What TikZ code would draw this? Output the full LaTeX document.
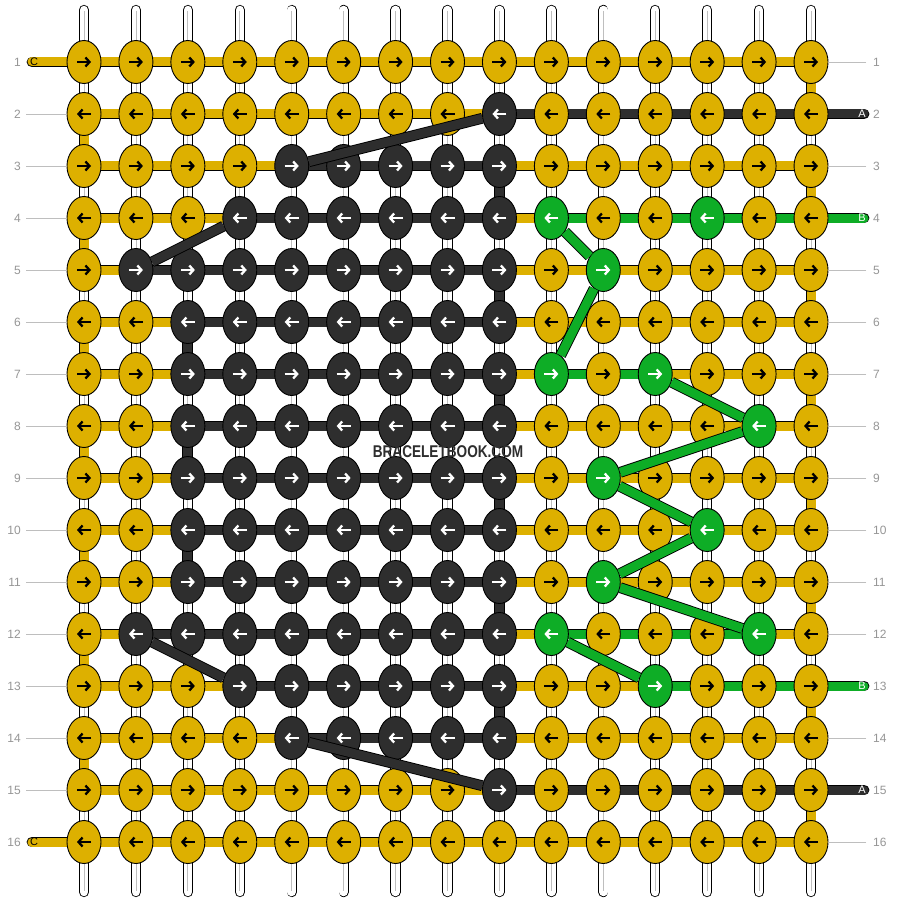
\documentclass[tikz,border=0pt]{standalone}
\usepackage{fontspec}
\setmainfont{Liberation Sans}
\usetikzlibrary{shapes.geometric,arrows.meta}
\definecolor{cY}{RGB}{221,176,0}
\definecolor{cD}{RGB}{46,46,46}
\definecolor{cG}{RGB}{14,173,38}
\definecolor{numgray}{RGB}{150,150,150}
\definecolor{guidegray}{RGB}{190,190,190}
\pgfdeclarelayer{strands}
\pgfdeclarelayer{bars}
\pgfsetlayers{strands,bars,main}
\tikzset{
  knot/.style={ellipse, draw=black, line width=0.9pt, fill=c#1, minimum width=34pt, minimum height=43pt, inner sep=0pt},
  bar/.style={draw=black, line width=0.9pt, double=c#1, double distance=9pt},
  strand/.style={draw=black, line width=0.9pt, double=white, double distance=8.5pt, line cap=round},
  arrY/.style={black}, arrD/.style={white}, arrG/.style={white},
  knotarrow/.style={line width=2.3pt, -{Straight Barb[length=4pt,width=9pt]}},
  rownum/.style={text=numgray, font=\fontsize{12}{12}\selectfont, inner sep=0pt},
  guide/.style={draw=guidegray, line width=0.9pt},
  tag/.style={font=\fontsize{11}{11}\selectfont, inner sep=0pt, text=#1},
}
\begin{document}
\begin{tikzpicture}[x=1pt,y=-1pt]
\useasboundingbox (0,0) rectangle (896,904);
% Strands
\begin{pgfonlayer}{strands}
\fill[white] (0,0) rectangle (896,904);
\foreach \c in {1,...,15}{
  \coordinate (top-\c) at ({84+(\c-1)*51.93},10);
  \coordinate (bot-\c) at ({84+(\c-1)*51.93},892);
  \draw[strand] (top-\c) -- (bot-\c);
  \draw[guidegray, line width=0.8pt, shorten <=1pt, shorten >=1pt] (top-\c) -- (bot-\c);
}
\end{pgfonlayer}
% Knots and row bars
\foreach \r/\ks/\bs in {
  1/{Y,Y,Y,Y,Y,Y,Y,Y,Y,Y,Y,Y,Y,Y,Y}/{Y,Y,Y,Y,Y,Y,Y,Y,Y,Y,Y,Y,Y,Y},
  2/{Y,Y,Y,Y,Y,Y,Y,Y,D,Y,Y,Y,Y,Y,Y}/{Y,Y,Y,Y,Y,Y,Y,Y,D,D,D,D,D,D},
  3/{Y,Y,Y,Y,D,D,D,D,D,Y,Y,Y,Y,Y,Y}/{Y,Y,Y,Y,D,D,D,D,Y,Y,Y,Y,Y,Y},
  4/{Y,Y,Y,D,D,D,D,D,D,G,Y,Y,G,Y,Y}/{Y,Y,Y,D,D,D,D,D,Y,G,G,G,G,G},
  5/{Y,D,D,D,D,D,D,D,D,Y,G,Y,Y,Y,Y}/{Y,D,D,D,D,D,D,D,Y,Y,Y,Y,Y,Y},
  6/{Y,Y,D,D,D,D,D,D,D,Y,Y,Y,Y,Y,Y}/{Y,Y,D,D,D,D,D,D,Y,Y,Y,Y,Y,Y},
  7/{Y,Y,D,D,D,D,D,D,D,G,Y,G,Y,Y,Y}/{Y,Y,D,D,D,D,D,D,Y,G,G,Y,Y,Y},
  8/{Y,Y,D,D,D,D,D,D,D,Y,Y,Y,Y,G,Y}/{Y,Y,D,D,D,D,D,D,Y,Y,Y,Y,Y,Y},
  9/{Y,Y,D,D,D,D,D,D,D,Y,G,Y,Y,Y,Y}/{Y,Y,D,D,D,D,D,D,Y,Y,Y,Y,Y,Y},
  10/{Y,Y,D,D,D,D,D,D,D,Y,Y,Y,G,Y,Y}/{Y,Y,D,D,D,D,D,D,Y,Y,Y,Y,Y,Y},
  11/{Y,Y,D,D,D,D,D,D,D,Y,G,Y,Y,Y,Y}/{Y,Y,D,D,D,D,D,D,Y,Y,Y,Y,Y,Y},
  12/{Y,D,D,D,D,D,D,D,D,G,Y,Y,Y,G,Y}/{Y,D,D,D,D,D,D,D,Y,G,G,G,G,Y},
  13/{Y,Y,Y,D,D,D,D,D,D,Y,Y,G,Y,Y,Y}/{Y,Y,Y,D,D,D,D,D,Y,Y,Y,G,G,G},
  14/{Y,Y,Y,Y,D,D,D,D,D,Y,Y,Y,Y,Y,Y}/{Y,Y,Y,Y,D,D,D,D,Y,Y,Y,Y,Y,Y},
  15/{Y,Y,Y,Y,Y,Y,Y,Y,D,Y,Y,Y,Y,Y,Y}/{Y,Y,Y,Y,Y,Y,Y,Y,D,D,D,D,D,D},
  16/{Y,Y,Y,Y,Y,Y,Y,Y,Y,Y,Y,Y,Y,Y,Y}/{Y,Y,Y,Y,Y,Y,Y,Y,Y,Y,Y,Y,Y,Y}}{
  \pgfmathsetmacro\ya{62+(\r-1)*52}
  \pgfmathsetmacro\xa{ifthenelse(isodd(\r),-7,7)}
  \pgfmathsetmacro\xb{ifthenelse(isodd(\r),7,-7)}
  \foreach \k [count=\c] in \ks {
    \node[knot=\k] (k-\r-\c) at ({84+(\c-1)*51.93},\ya) {};
    \draw[knotarrow, arr\k] ([xshift=\xa pt]k-\r-\c.center) -- ([xshift=\xb pt]k-\r-\c.center);
  }
  \begin{pgfonlayer}{bars}
  \foreach \b [count=\c] in \bs {
    \pgfmathtruncatemacro\n{\c+1}
    \draw[bar=\b] (k-\r-\c.center) -- (k-\r-\n.center);
  }
  \end{pgfonlayer}
  % row numbers
  \node[rownum, anchor=east] (nl-\r) at (21,\ya) {\r};
  \node[rownum, anchor=west] (nr-\r) at (873,\ya) {\r};
}
% Edge turns and colour runs
\begin{pgfonlayer}{bars}
\foreach \r [evaluate=\r as \n using int(\r+1)] in {1,3,...,15}
  \draw[bar=Y] (k-\r-15.center) -- (k-\n-15.center);
\foreach \r [evaluate=\r as \n using int(\r+1)] in {2,4,...,14}
  \draw[bar=Y] (k-\r-1.center) -- (k-\n-1.center);
\foreach \r [evaluate=\r as \n using int(\r+1)] in {3,5,...,13}
  \draw[bar=D] (k-\r-9.center) -- (k-\n-9.center);
\foreach \r [evaluate=\r as \n using int(\r+1)] in {6,8,10}
  \draw[bar=D] (k-\r-3.center) -- (k-\n-3.center);
% Loose ends
\foreach \r in {1,16}{
  \coordinate (tail-\r) at ([xshift=-52pt]k-\r-1.center);
  \draw[bar=Y, line cap=round] (tail-\r) -- (k-\r-1.center);
}
\foreach \r/\b in {2/D,4/G,13/G,15/D}{
  \coordinate (tail-\r) at ([xshift=53pt]k-\r-15.center);
  \draw[bar=\b, line cap=round] (k-\r-15.center) -- (tail-\r);
}
\end{pgfonlayer}
\foreach \r in {1,16}
  \node[tag=black] (tagC-\r) at ([xshift=2pt]tail-\r) {C};
\foreach \r/\t in {2/A,4/B,13/B,15/A}
  \node[tag=white] (tag\t-\r) at ([xshift=-2pt]tail-\r) {\t};
% Guide lines
\foreach \r in {2,...,15}
  \draw[guide, shorten <=5pt] (nl-\r) -- (k-\r-1);
\foreach \r in {1,3,5,6,7,8,9,10,11,12,14,16}
  \draw[guide, shorten <=7pt] (nr-\r) -- (k-\r-15);
% Moving threads
\foreach \p/\q in {2-9/3-5,4-4/5-2,12-2/13-4,14-5/15-9}
  \draw[bar=D] (k-\p) -- (k-\q);
\foreach \p/\q in {4-10/5-11,5-11/7-10,7-12/8-14,8-14/9-11,9-11/10-13,10-13/11-11,11-11/12-14,12-10/13-12}
  \draw[bar=G] (k-\p) -- (k-\q);
% Watermark
\node[font=\bfseries\fontsize{17}{17}\selectfont, text=cD] (mark) at (448,452) {\scalebox{0.8}[1]{BRACELETBOOK.COM}};
\end{tikzpicture}
\end{document}
